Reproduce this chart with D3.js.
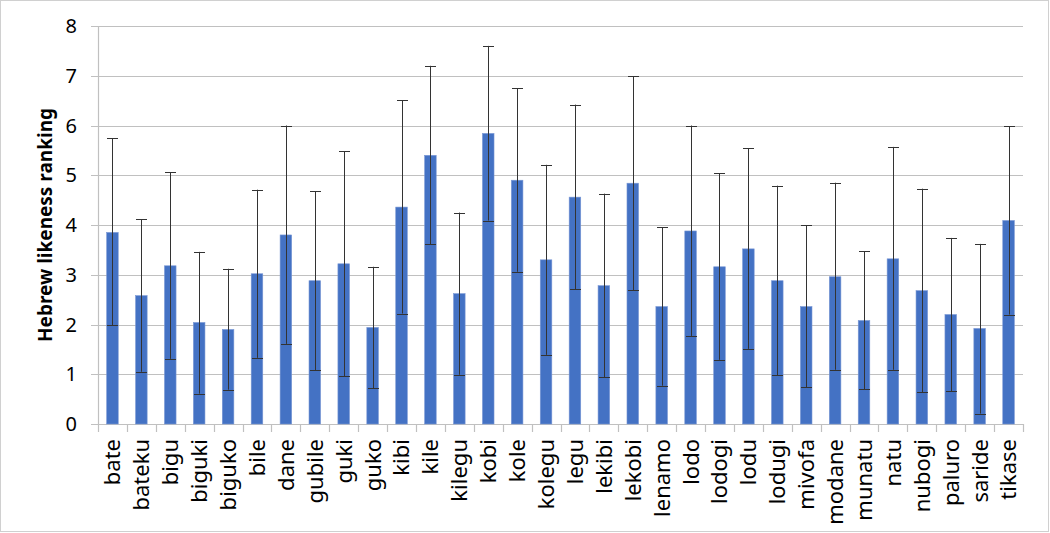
<!DOCTYPE html>
<html>
<head>
<meta charset="utf-8">
<script src="https://cdn.jsdelivr.net/npm/d3@7"></script>
<style>
  body { margin: 0; background: #fff; }
  svg { display: block; font-family: "Noto Sans", "Open Sans", sans-serif; }
</style>
</head>
<body>
<div id="chart"></div>
<script>
// words rated, in plot order
var words = ["bate", "bateku", "bigu", "biguki", "biguko", "bile", "dane", "gubile", "guki", "guko",
  "kibi", "kile", "kilegu", "kobi", "kole", "kolegu", "legu", "lekibi", "lekobi", "lenamo",
  "lodo", "lodogi", "lodu", "lodugi", "mivofa", "modane", "munatu", "natu", "nubogi", "paluro",
  "saride", "tikase"];
// mean ranking
var means = [3.85, 2.58, 3.18, 2.04, 1.90, 3.02, 3.80, 2.88, 3.22, 1.94,
  4.36, 5.40, 2.62, 5.84, 4.90, 3.30, 4.56, 2.78, 4.84, 2.36,
  3.88, 3.16, 3.52, 2.88, 2.36, 2.96, 2.08, 3.32, 2.68, 2.20,
  1.92, 4.09];
// error bar ends
var errHigh = [5.74, 4.12, 5.06, 3.46, 3.12, 4.71, 6.00, 4.68, 5.48, 3.16,
  6.51, 7.20, 4.25, 7.60, 6.75, 5.21, 6.42, 4.63, 6.99, 3.95,
  6.00, 5.04, 5.54, 4.79, 3.99, 4.85, 3.47, 5.57, 4.73, 3.74,
  3.62, 5.98];
var errLow = [1.99, 1.05, 1.31, 0.61, 0.69, 1.33, 1.61, 1.08, 0.96, 0.72,
  2.22, 3.61, 0.99, 4.09, 3.06, 1.39, 2.71, 0.94, 2.69, 0.77,
  1.77, 1.29, 1.51, 0.98, 0.74, 1.09, 0.70, 1.09, 0.64, 0.66,
  0.21, 2.20];
var yTicks = [0, 1, 2, 3, 4, 5, 6, 7, 8];

var W = 1050, H = 533;
var margin = { left: 98, right: 27, top: 26, bottom: 109 };

var svg = d3.select("#chart").append("svg").attr("width", W).attr("height", H);

// outer frame
svg.append("rect").attr("x", 0.5).attr("y", 0.5).attr("width", W - 2).attr("height", H - 2)
  .attr("fill", "#fff").attr("stroke", "#d0d0d0");

var x = d3.scaleBand().domain(words).range([margin.left, W - margin.right]).paddingInner(0.6).paddingOuter(0.3);
var y = d3.scaleLinear().domain([0, 8]).range([H - margin.bottom, margin.top]);

// gridlines
svg.append("g").selectAll("line").data(yTicks).enter().append("line")
  .attr("x1", margin.left - 7).attr("x2", W - margin.right)
  .attr("y1", function (d) { return Math.round(y(d)) + 0.5; })
  .attr("y2", function (d) { return Math.round(y(d)) + 0.5; })
  .attr("stroke", "#c0c0c0").attr("stroke-width", 1.2);

// y axis line
svg.append("line").attr("x1", margin.left + 0.5).attr("x2", margin.left + 0.5)
  .attr("y1", y(8)).attr("y2", y(0)).attr("stroke", "#c0c0c0").attr("stroke-width", 1.2);

// y tick labels
svg.append("g").selectAll("text").data(yTicks).enter().append("text")
  .attr("x", 77).attr("y", function (d) { return y(d); }).attr("dy", "0.36em")
  .attr("text-anchor", "end").attr("font-size", 20).attr("fill", "#000")
  .text(String);

// x category tick marks at band edges
var edges = d3.range(words.length + 1).map(function (i) { return margin.left + i * (W - margin.right - margin.left) / words.length; });
svg.append("g").selectAll("line").data(edges).enter().append("line")
  .attr("x1", function (d) { return Math.round(d) + 0.5; }).attr("x2", function (d) { return Math.round(d) + 0.5; })
  .attr("y1", y(0)).attr("y2", y(0) + 8).attr("stroke", "#c0c0c0").attr("stroke-width", 1.2);

// bars
svg.append("g").selectAll("rect").data(words).enter().append("rect")
  .attr("x", function (d) { return x(d); })
  .attr("y", function (d, i) { return y(means[i]); })
  .attr("width", x.bandwidth())
  .attr("height", function (d, i) { return y(0) - y(means[i]); })
  .attr("fill", "#4472c4").attr("stroke", "#7896d4").attr("stroke-width", 0.6);

// error bars
var eb = svg.append("g").attr("stroke", "#333").attr("stroke-width", 1);
var cx = function (d) { return Math.round(x(d) + x.bandwidth() / 2) + 0.5; };
var capW = 5.5;
eb.selectAll(".v").data(words).enter().append("line")
  .attr("x1", cx).attr("x2", cx)
  .attr("y1", function (d, i) { return y(errHigh[i]); })
  .attr("y2", function (d, i) { return y(errLow[i]); });
eb.selectAll(".hi").data(words).enter().append("line")
  .attr("x1", function (d) { return cx(d) - capW; }).attr("x2", function (d) { return cx(d) + capW; })
  .attr("y1", function (d, i) { return Math.round(y(errHigh[i])) + 0.5; })
  .attr("y2", function (d, i) { return Math.round(y(errHigh[i])) + 0.5; });
eb.selectAll(".lo").data(words).enter().append("line")
  .attr("x1", function (d) { return cx(d) - capW; }).attr("x2", function (d) { return cx(d) + capW; })
  .attr("y1", function (d, i) { return Math.round(y(errLow[i])) + 0.5; })
  .attr("y2", function (d, i) { return Math.round(y(errLow[i])) + 0.5; });

// category labels, rotated
svg.append("g").selectAll("text").data(words).enter().append("text")
  .attr("transform", function (d) { return "translate(" + (x(d) + x.bandwidth() / 2) + "," + (y(0) + 15) + ") rotate(-90)"; })
  .attr("dy", "0.36em").attr("text-anchor", "end")
  .attr("font-size", 22).attr("fill", "#000")
  .text(String);

// y axis title
svg.append("text")
  .attr("transform", "translate(45," + y(4) + ") rotate(-90)")
  .attr("dy", "0.36em").attr("text-anchor", "middle")
  .attr("font-size", 19).attr("font-weight", "bold").attr("fill", "#000")
  .text("Hebrew likeness ranking");
</script>
</body>
</html>
